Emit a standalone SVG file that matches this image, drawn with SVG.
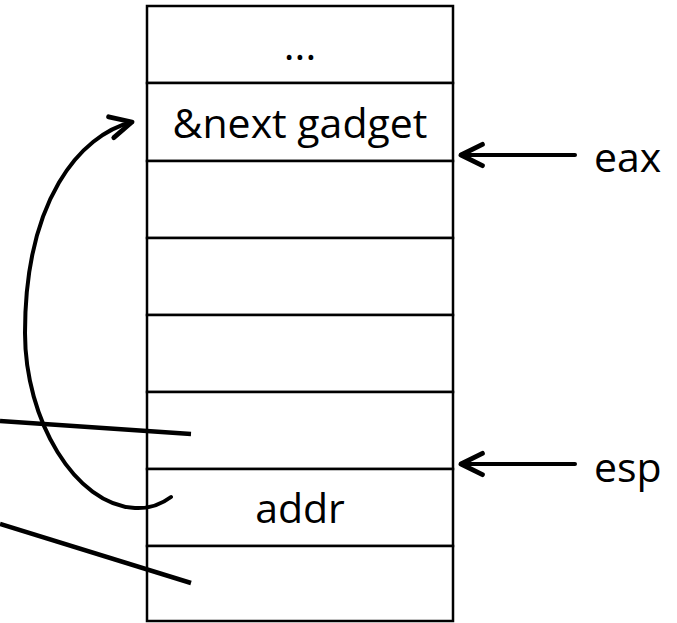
<svg xmlns="http://www.w3.org/2000/svg" width="677" height="623" viewBox="0 0 677 623">
  <defs>
    <style>
      .cell { fill: #ffffff; stroke: #000000; stroke-width: 2.5; }
      .label { font-family: "Open Sans", "Liberation Sans", sans-serif; font-size: 41px; fill: #000000; }
      .mid { text-anchor: middle; }
      .wire { fill: none; stroke: #000000; stroke-width: 4; stroke-linecap: round; }
      .plain { fill: none; stroke: #000000; stroke-width: 4.5; }
    </style>
    <!-- open chevron arrowhead -->
    <marker id="chev" markerUnits="userSpaceOnUse" markerWidth="30" markerHeight="30" viewBox="-24 -14 28 28" refX="0" refY="0" orient="auto">
      <path d="M -20 -10 L 0 0 L -20 10" fill="none" stroke="#000000" stroke-width="4.5" stroke-linecap="round" stroke-linejoin="round"/>
    </marker>
  </defs>

  <!-- stack cells, top to bottom -->
  <g id="cell-0"><rect class="cell" x="147" y="6" width="306" height="77"/><text class="label mid" x="300" y="60">...</text></g>
  <g id="cell-1"><rect class="cell" x="147" y="83" width="306" height="78"/><text class="label mid" x="300" y="138">&amp;next gadget</text></g>
  <g id="cell-2"><rect class="cell" x="147" y="161" width="306" height="77"/></g>
  <g id="cell-3"><rect class="cell" x="147" y="238" width="306" height="77"/></g>
  <g id="cell-4"><rect class="cell" x="147" y="315" width="306" height="77"/></g>
  <g id="cell-5"><rect class="cell" x="147" y="392" width="306" height="77"/></g>
  <g id="cell-6"><rect class="cell" x="147" y="469" width="306" height="77"/><text class="label mid" x="300" y="523">addr</text></g>
  <g id="cell-7"><rect class="cell" x="147" y="546" width="306" height="75"/></g>

  <!-- register labels -->
  <g id="reg-eax"><text class="label" x="594" y="172">eax</text></g>
  <g id="reg-esp"><text class="label" x="594" y="482">esp</text></g>

  <!-- pointers and links -->
  <g id="connectors">
    <line class="wire" x1="575" y1="155" x2="461" y2="155" marker-end="url(#chev)"/>
    <line class="wire" x1="575" y1="464" x2="461" y2="464" marker-end="url(#chev)"/>
    <path class="wire" d="M 171 497 Q 155 509 135 508 C 75 505 25 420 25 333 C 25 200 80 135 132 122" marker-end="url(#chev)"/>
    <line class="plain" x1="0" y1="421" x2="191" y2="434"/>
    <line class="plain" x1="0" y1="524" x2="191" y2="583"/>
  </g>
</svg>
